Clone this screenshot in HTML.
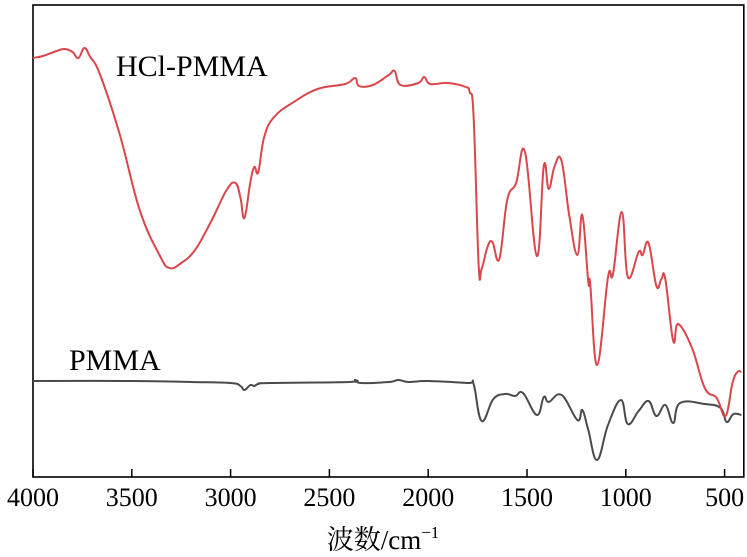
<!DOCTYPE html>
<html><head><meta charset="utf-8"><style>
body{margin:0;background:#fff}
svg{display:block;font-family:"Liberation Serif","Noto Serif CJK SC",serif}
</style></head><body>
<svg id="c" width="747" height="557">
<rect x="33" y="5" width="710.8" height="472" fill="none" stroke="#000" stroke-width="1.6"/>
<g id="ticks"></g>
<g id="series"></g>
<text x="116" y="76" font-size="30">HCl-PMMA</text>
<text x="69" y="370" font-size="30">PMMA</text>
<text x="383" y="549" font-size="27" text-anchor="middle">波数/cm<tspan font-size="17" dy="-11">−1</tspan></text>
</svg>
<script>
const xTicks=[4000,3500,3000,2500,2000,1500,1000,500];
const hclWn=[4000,3950,3880,3840,3800,3770,3740,3710,3660,3560,3460,3360,3310,3250,3180,3100,3020,2975,2950,2930,2900,2880,2860,2830,2780,2680,2560,2420,2370,2350,2280,2200,2170,2140,2050,2020,1990,1900,1810,1790,1770,1745,1730,1700,1675,1640,1600,1555,1510,1450,1415,1390,1360,1325,1285,1245,1220,1190,1180,1145,1090,1065,1020,990,935,915,885,845,820,800,760,735,665,600,540,495,460,435,415];
const hclVal=[419,421,426,428,425,419,429,420,402,342,267,222,209,214,227,255,287,294,279,259,295,310,305,340,360,375,388,393,399,391,392,402,406,392,394,400,393,394,390,385,360,213,208,230,235,218,277,294,325,221,311,288,311,316,260,222,262,195,193,112,200,203,265,200,225,222,234,191,198,198,136,153,129,89,79,61,94,105,105];
const pmmaWn=[4000,3500,3200,3000,2950,2930,2900,2880,2860,2800,2400,2370,2340,2200,2150,2100,2000,1800,1770,1730,1670,1610,1560,1520,1450,1415,1390,1325,1245,1220,1190,1145,1090,1025,990,935,885,845,800,760,725,600,520,490,455,415];
const pmmaVal=[96,96,95,94,91,87,92,91,93,94,95,97,94,95,97,95,96,94,93,56,78,83,81,84,62,80,75,82,57,67,47,17,52,77,53,66,76,61,72,54,74,73,69,55,63,62];
const NS='http://www.w3.org/2000/svg';
const xS=w=>33+(4000-w)*0.1976;
const yS=v=>477-v;
const tg=document.getElementById('ticks');
xTicks.forEach(t=>{
 const l=document.createElementNS(NS,'line');
 l.setAttribute('x1',xS(t));l.setAttribute('x2',xS(t));l.setAttribute('y1',477);l.setAttribute('y2',469);
 l.setAttribute('stroke','#000');l.setAttribute('stroke-width','1.5');
 
 
 tg.appendChild(l);
 const tx=document.createElementNS(NS,'text');
 tx.setAttribute('x',xS(t));tx.setAttribute('y',506);tx.setAttribute('font-size','26');tx.setAttribute('text-anchor','middle');
 tx.textContent=t;
 
 
 tg.appendChild(tx);
});
function draw(wn,val,color,name){
 const pts=wn.map((w,i)=>[xS(w),yS(val[i])]);
 let d='M'+pts[0][0].toFixed(1)+','+pts[0][1].toFixed(1);
 for(let i=0;i<pts.length-1;i++){
  const p0=pts[Math.max(0,i-1)],p1=pts[i],p2=pts[i+1],p3=pts[Math.min(pts.length-1,i+2)];
  const t=0.2;
  const c1=[p1[0]+(p2[0]-p0[0])*t,p1[1]+(p2[1]-p0[1])*t];
  const c2=[p2[0]-(p3[0]-p1[0])*t,p2[1]-(p3[1]-p1[1])*t];
  d+='C'+c1[0].toFixed(1)+','+c1[1].toFixed(1)+' '+c2[0].toFixed(1)+','+c2[1].toFixed(1)+' '+p2[0].toFixed(1)+','+p2[1].toFixed(1);
 }
 const p=document.createElementNS(NS,'path');
 p.setAttribute('d',d);
 p.setAttribute('fill','none');p.setAttribute('stroke',color);p.setAttribute('stroke-width','2');p.setAttribute('stroke-linejoin','round');
 
 
 document.getElementById('series').appendChild(p);
}
draw(pmmaWn,pmmaVal,'#4a4a4a','pmma-line');
draw(hclWn,hclVal,'#d9474c','hcl-pmma-line');
</script>
</body></html>
